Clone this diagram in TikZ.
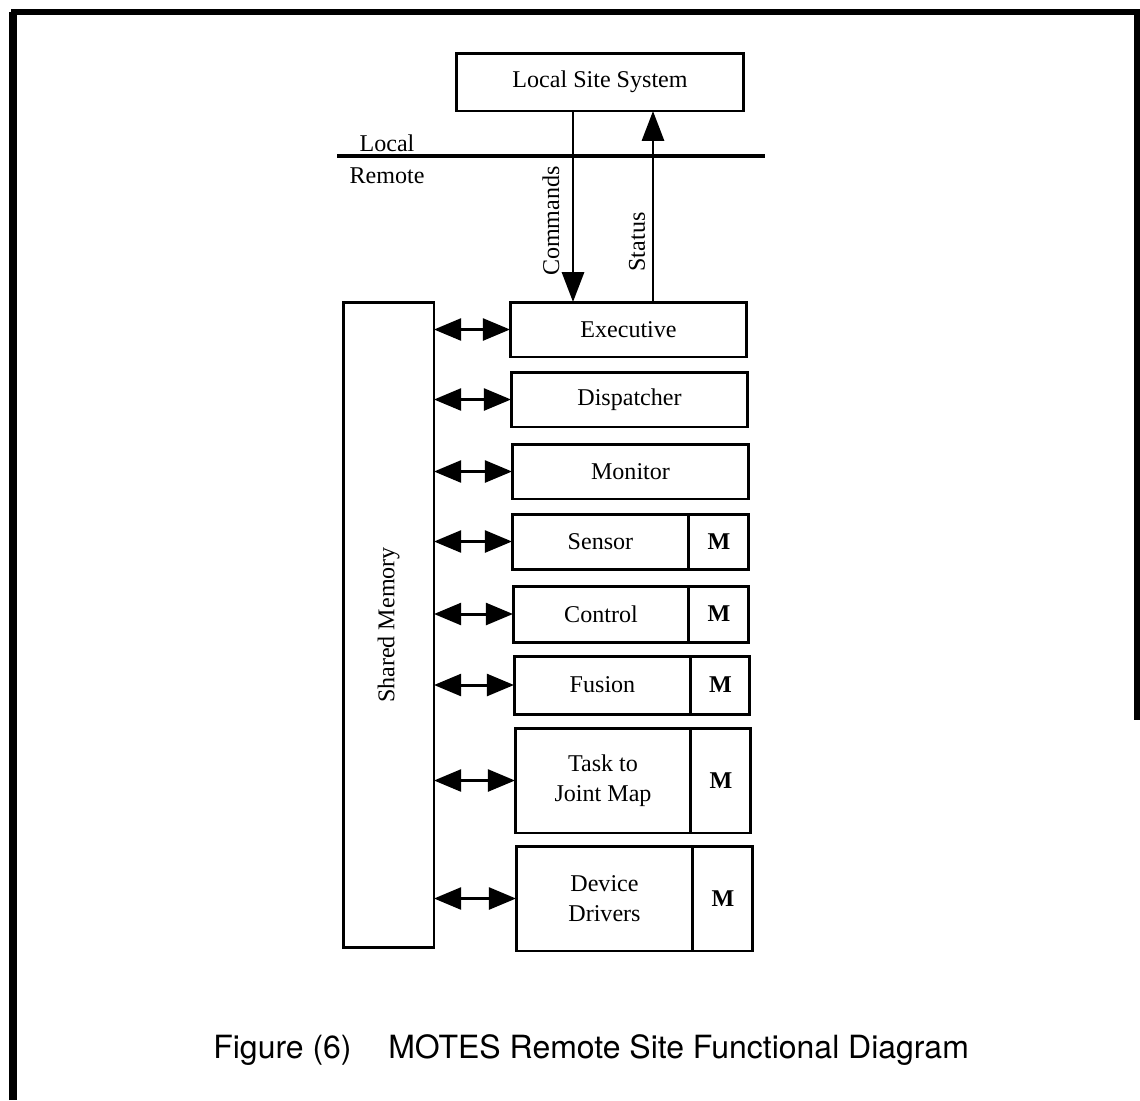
\documentclass[tikz,border=0pt]{standalone}
\usepackage{fontspec}
\setmainfont{Liberation Serif}
\newfontfamily\capfont{TeX Gyre Heros}
\usetikzlibrary{arrows.meta,calc}
\tikzset{
  box/.style={draw, line width=1.7pt, inner sep=0pt, outer sep=0pt, font=\fontsize{13.7}{17}\selectfont, align=center},
  lbl/.style={inner sep=0pt, font=\fontsize{13.7}{17}\selectfont},
  bigarr/.style={line width=1.7pt, -{Triangle[length=17pt,width=12.5pt]}},
  dbl/.style={line width=1.7pt, {Triangle[length=15.5pt,width=12.5pt]}-{Triangle[length=15.5pt,width=12.5pt]}},
}
\begin{document}
\begin{tikzpicture}[x=0.02cm, y=-0.02cm]
\useasboundingbox (0,0) rectangle (1140,1100);
% frame
\draw[line width=4.5pt] (13,1100) -- (13,12);
\draw[line width=3pt] (11,12) -- (1137,12) -- (1137,720);

% local site system
\node[box, minimum width=5.76cm, minimum height=1.16cm] (lss) at (600,82) {Local Site System};

% local / remote divider
\coordinate (divL) at (337,156);
\coordinate (divR) at (765,156);
\draw[line width=2.8pt] (divL) -- (divR);
\node[lbl] (local) at (387,143) {Local};
\node[lbl] (remote) at (387,176) {Remote};

% modules
\node[box, minimum width=4.74cm, minimum height=1.10cm] (ex) at (628.5,329.5) {Executive};
\node[box, minimum width=4.74cm, minimum height=1.10cm] (di) at (629.5,399.5) {Dispatcher};
\node[box, minimum width=4.74cm, minimum height=1.10cm] (mo) at (630.5,471.5) {Monitor};

\node[box, minimum width=3.54cm, minimum height=1.10cm] (se) at (600.5,541.5) {Sensor};
\node[box, minimum width=1.20cm, minimum height=1.10cm, anchor=west] (seM) at (se.east) {\bfseries M};

\node[box, minimum width=3.52cm, minimum height=1.12cm] (co) at (601,614) {Control};
\node[box, minimum width=1.20cm, minimum height=1.12cm, anchor=west] (coM) at (co.east) {\bfseries M};

\node[box, minimum width=3.54cm, minimum height=1.16cm] (fu) at (602.5,685) {Fusion};
\node[box, minimum width=1.18cm, minimum height=1.16cm, anchor=west] (fuM) at (fu.east) {\bfseries M};

\node[box, minimum width=3.52cm, minimum height=2.10cm] (tj) at (603,780.5) {Task to\\Joint Map};
\node[box, minimum width=1.20cm, minimum height=2.10cm, anchor=west] (tjM) at (tj.east) {\bfseries M};

\node[box, minimum width=3.54cm, minimum height=2.10cm] (dd) at (604.5,898.5) {Device\\Drivers};
\node[box, minimum width=1.20cm, minimum height=2.10cm, anchor=west] (ddM) at (dd.east) {\bfseries M};

% shared memory
\node[box, minimum width=1.82cm, minimum height=12.92cm] (shm) at (388.5,625) {};
\node[lbl, rotate=90] (shmlbl) at (shm.center) {Shared Memory};

% commands / status
\coordinate (cmdTop) at (573,111);
\coordinate (stTop) at (653,111);
\draw[bigarr] (cmdTop) -- (cmdTop |- ex.north);
\draw[bigarr] (stTop |- ex.north) -- (stTop);
\node[lbl, rotate=90] (cmdlbl) at (551,221) {Commands};
\node[lbl, rotate=90] (stlbl) at (637,242) {Status};

% shared memory links
\foreach \m in {ex,di,mo,se,co,fu,tj,dd}{
  \draw[dbl] (shm.east |- \m.west) -- (\m.west);
}

% caption
\node[inner sep=0pt, anchor=base west, font=\capfont\fontsize{18.2}{21}\selectfont] (cap) at (213,1058)
  {Figure (6)\hspace{1.15em}MOTES Remote Site Functional Diagram};
\end{tikzpicture}
\end{document}
